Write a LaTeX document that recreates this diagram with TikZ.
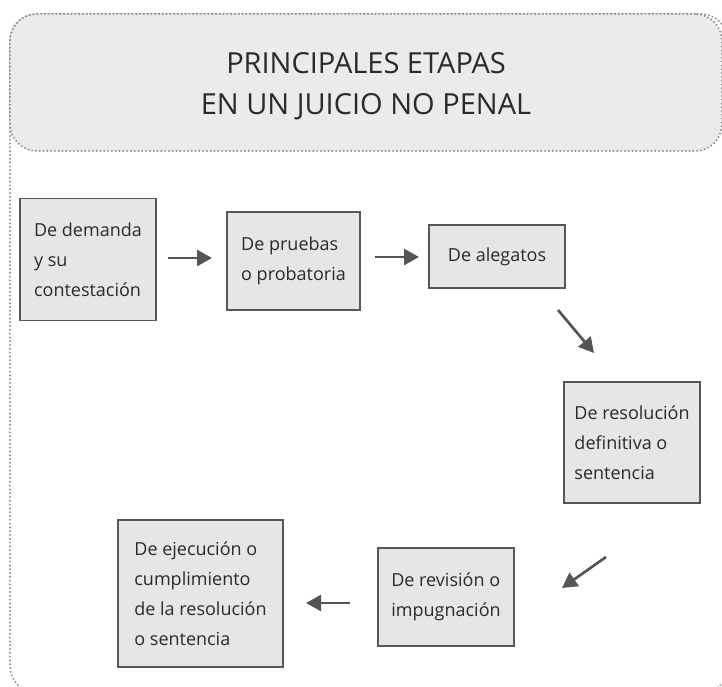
\documentclass[tikz,border=0pt]{standalone}
\usepackage{fontspec}
\setmainfont{Open Sans}
\usetikzlibrary{arrows.meta}
\definecolor{dotgray}{HTML}{8E8E90}
\definecolor{hdrfill}{HTML}{EBEBED}
\definecolor{boxfill}{HTML}{E6E6E8}
\definecolor{boxline}{HTML}{58585A}
\definecolor{txt}{HTML}{2A2A2A}
\definecolor{arr}{HTML}{555557}
\tikzset{
  dotframe/.style={draw=dotgray, line width=2.2pt, line cap=round, dash pattern=on 0pt off 3.8pt},
  stagebox/.style={draw=boxline, line width=1.4pt, fill=boxfill, text=txt, align=left,
    inner sep=0pt, font=\fontsize{18}{30}\selectfont},
  flowarrow/.style={draw=arr, line width=2.7pt, -{Triangle[length=15pt,width=16pt]}},
}
\begin{document}
\begin{tikzpicture}[x=1pt,y=-1pt]
\useasboundingbox (0,0) rectangle (722,687);
% outer frame
\draw[dotframe, rounded corners=27pt] (10,14) rectangle (728,693);
% header
\node[dotframe, fill=hdrfill, rounded corners=27pt, minimum width=712pt, minimum height=137pt,
  inner sep=0pt] (hdr) at (366,82.5) {};
\node[text=txt, align=center, font=\fontsize{29}{41}\selectfont, inner sep=0pt] (title) at (366,86)
  {PRINCIPALES ETAPAS\\EN UN JUICIO NO PENAL};
% stages
\node[stagebox, minimum width=136pt, minimum height=122pt] (s1) at (88,259.5)
  {De demanda\\y su\\contestación};
\node[stagebox, minimum width=133pt, minimum height=98pt] (s2) at (293.5,261)
  {De pruebas\\o probatoria};
\node[stagebox, minimum width=136pt, minimum height=63pt] (s3) at (497,256.5)
  {De alegatos};
\node[stagebox, minimum width=136pt, minimum height=121pt] (s4) at (632,442.5)
  {De resolución\\definitiva o\\sentencia};
\node[stagebox, minimum width=136pt, minimum height=98pt] (s5) at (446,597)
  {De revisión o\\impugnación};
\node[stagebox, minimum width=165pt, minimum height=147pt] (s6) at (200.5,593.5)
  {De ejecución o\\cumplimiento\\de la resolución\\o sentencia};
% arrow end points
\coordinate (a1s) at (168,258);
\coordinate (a1e) at (212,258);
\coordinate (a2s) at (375,257);
\coordinate (a2e) at (419,257);
\coordinate (a3s) at (558,310);
\coordinate (a3e) at (594,353);
\coordinate (a4s) at (606,557);
\coordinate (a4e) at (562,588);
\coordinate (a5s) at (350,603);
\coordinate (a5e) at (306,603);
\draw[flowarrow] (a1s) -- (a1e);
\draw[flowarrow] (a2s) -- (a2e);
\draw[flowarrow] (a3s) -- (a3e);
\draw[flowarrow] (a4s) -- (a4e);
\draw[flowarrow] (a5s) -- (a5e);
\end{tikzpicture}
\end{document}
